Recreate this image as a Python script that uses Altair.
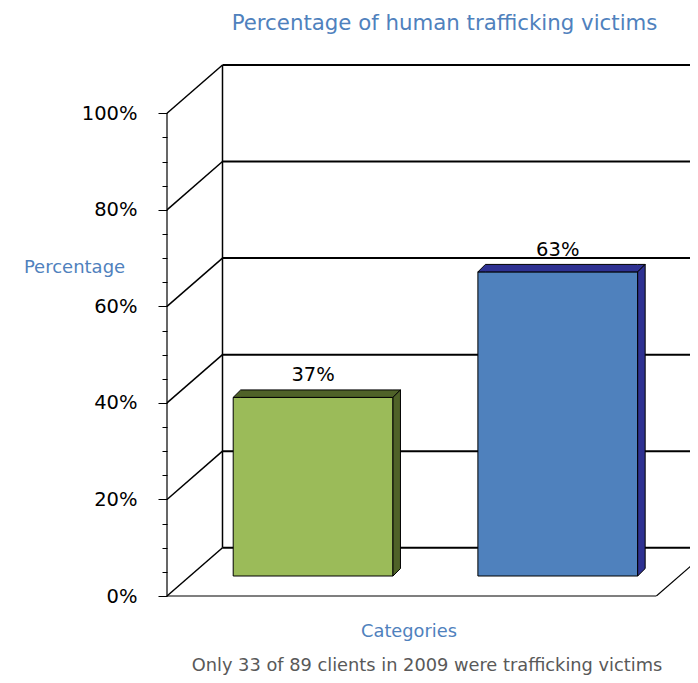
import altair as alt
import pandas as pd

# ---------------- data ----------------
categories = ["Not trafficking victims", "Trafficking victims"]
values = [37, 63]
face_colors = ["#9BBB59", "#4F81BD"]
shade_colors = ["#4F6228", "#2E3192"]
tick_values = [0, 20, 40, 60, 80, 100]
tick_labels = ["0%", "20%", "40%", "60%", "80%", "100%"]
minor_tick_step = 5
title_text = "Percentage of human trafficking victims"
y_title = "Percentage"
x_title = "Categories"
footnote = "Only 33 of 89 clients in 2009 were trafficking victims"

# ---------------- 3-D box geometry (data units: x = category slot, y = percent) ----------------
PLOT_W, PLOT_H = 523, 531
X_MIN = 0.403
X_MAX = X_MIN + PLOT_W / 244.7
Y_MAX = 110
WALL_DX, WALL_DY = 0.2268, 10
FLOOR_RIGHT = 2.403
BAR_W, BAR_BASE = 0.653, 4.14
BAR_DX, BAR_DY = 0.0306, 1.55

FONT = "DejaVu Sans"
BLUE_TEXT = "#4F81BD"

xscale = alt.Scale(domain=[X_MIN, X_MAX], nice=False, zero=False)
yscale = alt.Scale(domain=[0, Y_MAX], nice=False, zero=False)

major_test = "indexof(" + str(tick_values) + ", datum.value) >= 0"
label_expr = (
    major_test + " ? " + str(tick_labels) + "[indexof(" + str(tick_values) + ", datum.value)] : ''"
)
yaxis = alt.Axis(
    values=list(range(0, 101, minor_tick_step)),
    labelExpr=label_expr,
    tickSize={"condition": {"test": major_test, "value": 9}, "value": 5},
    tickColor="black",
    tickWidth=1,
    domain=False,
    grid=False,
    labelFont=FONT,
    labelFontSize=19.5,
    labelColor="black",
    labelPadding=21,
    title=y_title,
    titleFont=FONT,
    titleFontSize=18,
    titleFontWeight="normal",
    titleColor=BLUE_TEXT,
    titleAngle=0,
    titleAlign="center",
    titleBaseline="middle",
    titleX=-93,
    titleY=202,
)
xaxis = alt.Axis(
    labels=False,
    ticks=False,
    domain=False,
    grid=False,
    title=x_title,
    titleFont=FONT,
    titleFontSize=17.8,
    titleFontWeight="normal",
    titleColor=BLUE_TEXT,
    titleAlign="center",
    titleBaseline="middle",
    titleX=241.5,
    titleY=35,
)

# ---------------- frame segments ----------------
segs = []
segs.append(dict(x=X_MIN, y=0, x2=X_MIN, y2=tick_values[-1], w=1.2))  # front axis line
segs.append(dict(x=X_MIN + WALL_DX, y=WALL_DY, x2=X_MIN + WALL_DX, y2=tick_values[-1] + WALL_DY, w=1.5))
for v in tick_values:
    segs.append(dict(x=X_MIN, y=v, x2=X_MIN + WALL_DX, y2=v + WALL_DY, w=1.5))
    segs.append(dict(x=X_MIN + WALL_DX, y=v + WALL_DY, x2=X_MAX, y2=v + WALL_DY, w=2))
segs.append(dict(x=X_MIN, y=0, x2=FLOOR_RIGHT, y2=0, w=1.2))
seg_df = pd.DataFrame(segs)
floor_diag = pd.DataFrame([dict(x=FLOOR_RIGHT, y=0, x2=FLOOR_RIGHT + WALL_DX, y2=WALL_DY, w=1.2)])


def seg_layer(df, clip=False):
    return alt.Chart(df).mark_rule(color="black", clip=clip).encode(
        x=alt.X("x:Q", scale=xscale, axis=xaxis),
        x2="x2:Q",
        y=alt.Y("y:Q", scale=yscale, axis=yaxis),
        y2="y2:Q",
        strokeWidth=alt.StrokeWidth("w:Q", scale=None),
    )


# ---------------- bars ----------------
fronts, faces, labels = [], [], []
for i, (cat, v) in enumerate(zip(categories, values)):
    xc = i + 1
    xl, xr = xc - BAR_W / 2, xc + BAR_W / 2
    top, base = BAR_BASE + v, BAR_BASE
    fronts.append(dict(cat=cat, xl=xl, xr=xr, top=top, base=base, fill=face_colors[i]))
    labels.append(dict(cat=cat, x=xc, y=top, label=f"{v}%"))
    # top face (parallelogram)
    for px, py, py2 in [
        (xl, top, top),
        (xl + BAR_DX, top + BAR_DY, top),
        (xr, top + BAR_DY, top),
        (xr + BAR_DX, top + BAR_DY, top + BAR_DY),
    ]:
        faces.append(dict(piece=f"{cat}-top", x=px, y=py, y2=py2, fill=shade_colors[i]))
    # side face
    for px, py, py2 in [(xr, top, base), (xr + BAR_DX, top + BAR_DY, base + BAR_DY)]:
        faces.append(dict(piece=f"{cat}-side", x=px, y=py, y2=py2, fill=shade_colors[i]))

front_df = pd.DataFrame(fronts)
face_df = pd.DataFrame(faces)
label_df = pd.DataFrame(labels)

front_layer = alt.Chart(front_df).mark_rect(stroke="black", strokeWidth=1).encode(
    x=alt.X("xl:Q", scale=xscale, axis=xaxis),
    x2="xr:Q",
    y=alt.Y("top:Q", scale=yscale, axis=yaxis),
    y2="base:Q",
    fill=alt.Fill("fill:N", scale=None),
)
face_layer = alt.Chart(face_df).mark_area(stroke="black", strokeWidth=1, interpolate="linear").encode(
    x=alt.X("x:Q", scale=xscale, axis=xaxis),
    y=alt.Y("y:Q", scale=yscale, axis=yaxis, stack=None),
    y2="y2:Q",
    detail="piece:N",
    fill=alt.Fill("fill:N", scale=None),
)
label_layer = alt.Chart(label_df).mark_text(
    font=FONT, fontSize=19.5, color="black", baseline="middle", dy=-22
).encode(
    x=alt.X("x:Q", scale=xscale, axis=xaxis),
    y=alt.Y("y:Q", scale=yscale, axis=yaxis),
    text="label:N",
)
note_layer = alt.Chart(pd.DataFrame({"note": [footnote]})).mark_text(
    font=FONT, fontSize=17.8, color="#595959", baseline="middle", align="center"
).encode(
    x=alt.value(260),
    y=alt.value(601),
    text="note:N",
)

chart = (
    alt.layer(
        seg_layer(seg_df),
        seg_layer(floor_diag, clip=True),
        front_layer,
        face_layer,
        label_layer,
        note_layer,
    )
    .properties(
        width=PLOT_W,
        height=PLOT_H,
        background="white",
        autosize=alt.AutoSizeParams(type="none"),
        padding={"left": 159, "top": 57, "right": 0, "bottom": 79},
        title=alt.TitleParams(
            text=title_text,
            font=FONT,
            fontSize=21.3,
            fontWeight="normal",
            color=BLUE_TEXT,
            anchor="middle",
            frame="group",
            dx=16,
            offset=30,
        ),
    )
    .configure_view(stroke="transparent", strokeWidth=0)
)

chart.save("out.html", embed_options={"renderer": "svg", "actions": False})
